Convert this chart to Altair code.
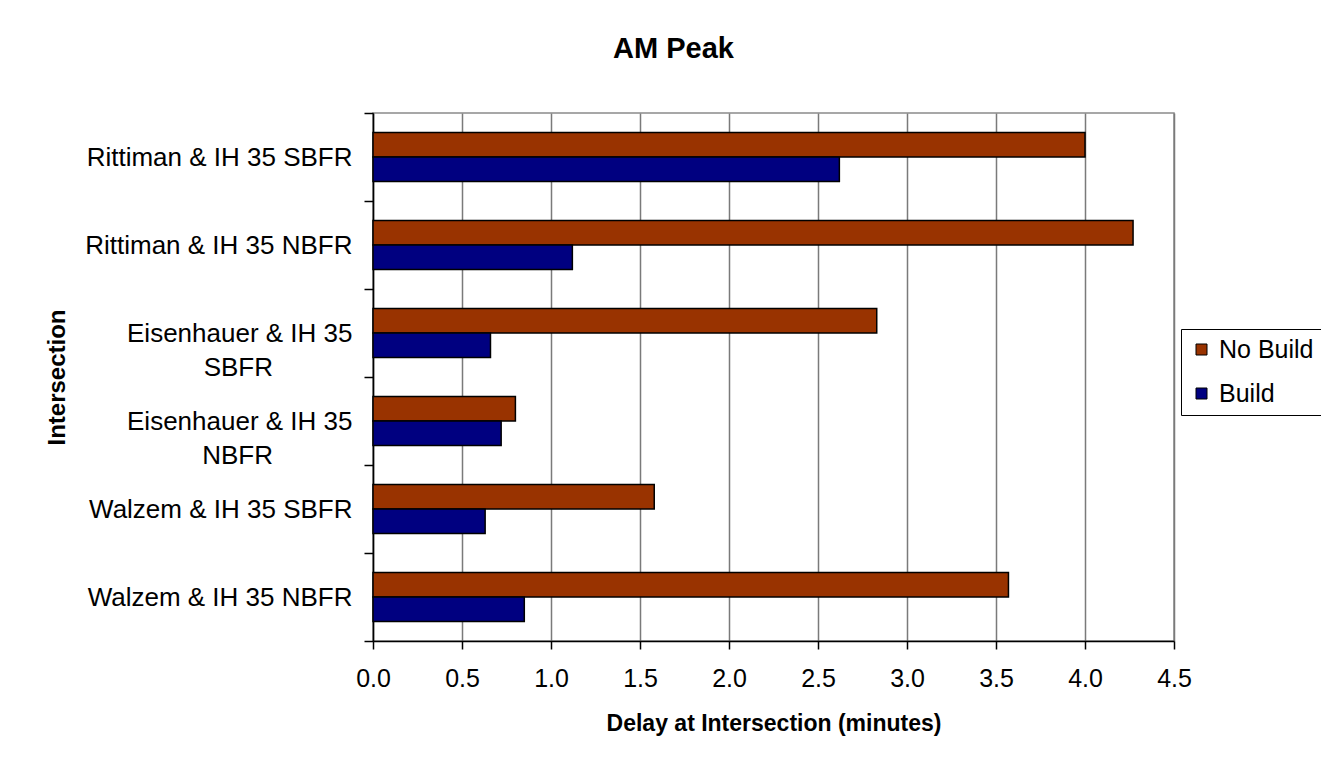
import altair as alt
import pandas as pd

categories = [
    "Rittiman & IH 35 SBFR",
    "Rittiman & IH 35 NBFR",
    "Eisenhauer & IH 35 SBFR",
    "Eisenhauer & IH 35 NBFR",
    "Walzem & IH 35 SBFR",
    "Walzem & IH 35 NBFR",
]
series = ["No Build", "Build"]
no_build = [4.00, 4.27, 2.83, 0.80, 1.58, 3.57]
build = [2.62, 1.12, 0.66, 0.72, 0.63, 0.85]
x_ticks = [0.0, 0.5, 1.0, 1.5, 2.0, 2.5, 3.0, 3.5, 4.0, 4.5]
colors = ["#993300", "#000080"]

rows = []
for c, nb, b in zip(categories, no_build, build):
    rows.append({"Intersection": c, "Scenario": "No Build", "Delay": nb})
    rows.append({"Intersection": c, "Scenario": "Build", "Delay": b})
df = pd.DataFrame(rows)

pad = "\u00a0" * 11 + "\u200b"
label_expr = (
    "datum.value == 'Eisenhauer & IH 35 SBFR' ? ['Eisenhauer & IH 35', 'SBFR" + pad + "'] : "
    "datum.value == 'Eisenhauer & IH 35 NBFR' ? ['Eisenhauer & IH 35', 'NBFR" + pad + "'] : datum.value"
)

FONT = "Liberation Sans"

chart = (
    alt.Chart(df)
    .mark_bar(stroke="black", strokeWidth=1.5)
    .encode(
        x=alt.X(
            "Delay:Q",
            scale=alt.Scale(domain=[0, 4.5], nice=False, zero=True),
            axis=alt.Axis(
                values=x_ticks,
                format=".1f",
                title="Delay at Intersection (minutes)",
                titleFontSize=23,
                titleFontWeight="bold",
                titleBaseline="alphabetic",
                titleY=89,
                labelFontSize=25,
                labelPadding=17,
                labelFlush=False,
                tickSize=8,
                tickColor="black",
                tickWidth=1.5,
                domainColor="black",
                domainWidth=1.5,
                grid=True,
                gridColor="#7a7a7a",
                gridWidth=1.5,
            ),
        ),
        y=alt.Y(
            "Intersection:N",
            sort=categories,
            scale=alt.Scale(paddingInner=0, paddingOuter=0),
            axis=alt.Axis(
                title="Intersection",
                titleFontSize=24,
                titleFontWeight="bold",
                titleAngle=270,
                titleAlign="center",
                titleBaseline="middle",
                titleX=-316,
                titleY=264,
                labelFontSize=26,
                labelPadding=12,
                labelAlign="right",
                labelLineHeight=34,
                labelBaseline="middle",
                labelExpr=label_expr,
                labelLimit=400,
                tickBand="extent",
                tickSize=9,
                tickColor="black",
                tickWidth=1.5,
                domainColor="black",
                domainWidth=1.5,
                grid=False,
            ),
        ),
        yOffset=alt.YOffset(
            "Scenario:N",
            sort=series,
            scale=alt.Scale(paddingInner=0, paddingOuter=0.8),
        ),
        fill=alt.Fill(
            "Scenario:N",
            sort=series,
            scale=alt.Scale(domain=series, range=colors),
            legend=alt.Legend(
                title=None,
                orient="none",
                legendX=808,
                legendY=216,
                strokeColor="black",
                padding=8,
                symbolType="square",
                symbolSize=121,
                symbolStrokeColor="black",
                symbolStrokeWidth=1,
                labelFontSize=25,
                labelOffset=5,
                rowPadding=18,
            ),
        ),
    )
    .properties(
        width=801,
        height=528,
        title=alt.TitleParams(
            "AM Peak",
            fontSize=29,
            fontWeight="bold",
            anchor="middle",
            dx=-100,
            offset=13,
            baseline="alphabetic",
        ),
        autosize=alt.AutoSizeParams(type="none"),
        padding={"left": 365, "top": 105, "right": 147, "bottom": 110},
    )
    .configure(font=FONT)
    .configure_view(stroke="#8a8a8a", strokeWidth=1.5)
    .configure_axis(labelColor="black", titleColor="black", labelFont=FONT, titleFont=FONT)
    .configure_legend(labelColor="black", labelFont=FONT)
    .configure_title(color="black", font=FONT)
)

chart.save("out.html", embed_options={"renderer": "svg", "actions": False})
